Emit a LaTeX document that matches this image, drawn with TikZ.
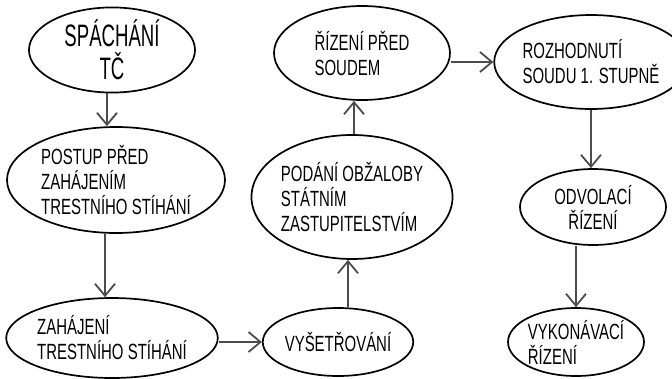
\documentclass[tikz,border=0pt]{standalone}
\usepackage{fontspec}
\setmainfont{Liberation Sans}
\newfontfamily\handfont[FakeStretch=0.68]{Liberation Sans}
\newfontfamily\bigfont[FakeStretch=0.6]{Liberation Sans}
\usetikzlibrary{shapes.geometric,arrows.meta}
\begin{document}
\begin{tikzpicture}[x=1pt,y=-1pt,
  stage/.style={ellipse,draw=black,line width=1.7pt,inner sep=0pt,align=left,
    font=\handfont\fontsize{22}{25}\selectfont},
  flow/.style={draw=black!70,line width=2pt,
    -{Straight Barb[length=12pt,width=20pt,line width=1.8pt]}}]
\useasboundingbox (0,0) rectangle (672,378);
\node[stage,minimum width=166pt,minimum height=84pt,font=\bigfont\fontsize{31}{33}\selectfont,align=center] (s1) at (112,50) {SPÁCHÁNÍ\\TČ};
\node[stage,minimum width=218pt,minimum height=106pt] (s2) at (116,180) {POSTUP PŘED\\ZAHÁJENÍM\\TRESTNÍHO STÍHÁNÍ};
\node[stage,minimum width=180pt,minimum height=80pt] (s3) at (112,338) {ZAHÁJENÍ\\TRESTNÍHO STÍHÁNÍ};
\node[stage,minimum width=130pt,minimum height=68pt] (s4) at (338,342) {VYŠETŘOVÁNÍ};
\node[stage,minimum width=190pt,minimum height=124pt] (s5) at (352,197) {PODÁNÍ OBŽALOBY\\STÁTNÍM\\ZASTUPITELSTVÍM};
\node[stage,minimum width=176pt,minimum height=94pt] (s6) at (362,53) {ŘÍZENÍ PŘED\\SOUDEM};
\node[stage,minimum width=158pt,minimum height=94pt] (s7) at (591,62) {ROZHODNUTÍ\\SOUDU 1. STUPNĚ};
\node[stage,minimum width=146pt,minimum height=76pt,align=center] (s8) at (593,207) {ODVOLACÍ\\ŘÍZENÍ};
\node[stage,minimum width=132pt,minimum height=68pt] (s9) at (576,342) {VYKONÁVACÍ\\ŘÍZENÍ};
\draw[flow] ([xshift=-5pt]s1.south) -- ([xshift=-5pt]s1.south |- s2.north);
\draw[flow] ([xshift=-11pt]s2.south) -- ([xshift=-11pt]s2.south |- s3.north);
\draw[flow] (s3.east |- s4.west) -- (s4.west);
\draw[flow] ([xshift=10pt]s4.north) -- ([xshift=10pt]s4.north |- s5.south);
\draw[flow] ([xshift=2pt]s5.north) -- ([xshift=2pt]s5.north |- s6.south);
\draw[flow] (s6.east |- s7.west) -- (s7.west);
\draw[flow] (s7.south) -- (s7.south |- s8.north);
\draw[flow] (s8.south -| s9.north) -- (s9.north);
\end{tikzpicture}
\end{document}
